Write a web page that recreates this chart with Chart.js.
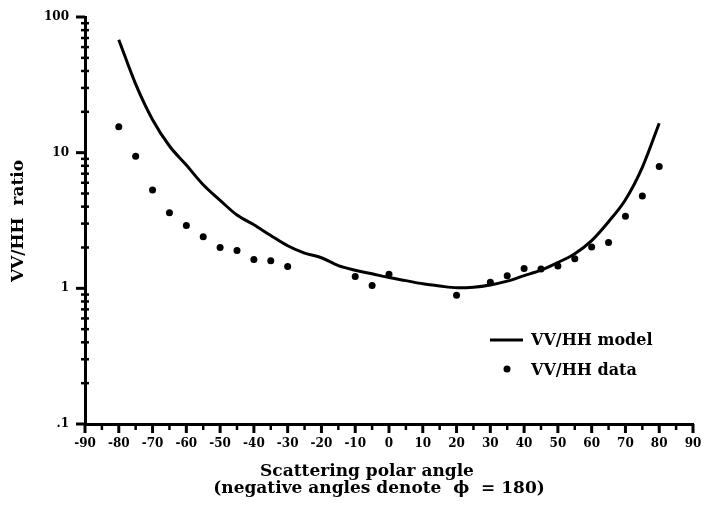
<!DOCTYPE html>
<html>
<head>
<meta charset="utf-8">
<script src="https://cdn.jsdelivr.net/npm/chart.js"></script>
<style>
    body { margin: 0; background: #fff; }
    #wrap { width: 701px; height: 505px; }
</style>
</head>
<body>
<div id="wrap"><canvas id="chart1" width="701" height="505"></canvas></div>
<script>
// model curve
var modelAngles = [-80, -75, -70, -65, -60, -55, -50, -45, -40, -35, -30, -25, -20, -15, -10, -5,
    0, 5, 10, 15, 20, 25, 30, 35, 40, 45, 50, 55, 60, 65, 70, 75, 80];
var modelRatio = [68, 32, 17.5, 11.2, 8.1, 5.8, 4.45, 3.47, 2.94, 2.45, 2.06, 1.82, 1.68, 1.47, 1.36, 1.28,
    1.2, 1.14, 1.08, 1.04, 1.01, 1.02, 1.06, 1.13, 1.24, 1.36, 1.55, 1.8, 2.25, 3.1, 4.5, 7.8, 16.5];

// measured points
var dataAngles = [-80, -75, -70, -65, -60, -55, -50, -45, -40, -35, -30, -10, -5, 0,
    20, 30, 35, 40, 45, 50, 55, 60, 65, 70, 75, 80];
var dataRatio = [15.5, 9.4, 5.3, 3.6, 2.9, 2.4, 2.0, 1.9, 1.63, 1.6, 1.45, 1.22, 1.05, 1.27,
    0.89, 1.11, 1.24, 1.4, 1.39, 1.46, 1.65, 2.02, 2.18, 3.4, 4.8, 7.9];

// axis ticks
var xTicks = [-90, -80, -70, -60, -50, -40, -30, -20, -10, 0, 10, 20, 30, 40, 50, 60, 70, 80, 90];
var yDecades = [0.1, 1, 10, 100];
var yLabels = [".1", "1", "10", "100"];

var serif = "'DejaVu Serif', serif";

function toPoints(xs, ys) {
    return xs.map(function (x, i) { return { x: x, y: ys[i] }; });
}

// tick marks, axis titles and legend
var decorations = {
    id: 'decorations',
    afterDraw: function (chart) {
        var ctx = chart.ctx;
        var xs = chart.scales.x, ys = chart.scales.y;
        var a = chart.chartArea;
        ctx.save();
        ctx.strokeStyle = '#000';
        ctx.fillStyle = '#000';

        // x ticks, major every 10 and minor every 5
        for (var v = xs.min; v <= xs.max; v += 5) {
            var px = xs.getPixelForValue(v);
            var major = v % 10 === 0;
            ctx.lineWidth = major ? 3 : 2.5;
            ctx.beginPath();
            ctx.moveTo(px, a.bottom);
            ctx.lineTo(px, a.bottom + (major ? 9 : 6));
            ctx.stroke();
        }

        // y ticks, decades outside, minor ones across the axis
        yDecades.forEach(function (d, i) {
            var py = ys.getPixelForValue(d);
            ctx.lineWidth = 3;
            ctx.beginPath();
            ctx.moveTo(a.left - 9, py);
            ctx.lineTo(a.left, py);
            ctx.stroke();
            if (i < yDecades.length - 1) {
                for (var m = 2; m <= 9; m++) {
                    var pm = ys.getPixelForValue(d * m);
                    ctx.lineWidth = 2.5;
                    ctx.beginPath();
                    ctx.moveTo(a.left - 4, pm);
                    ctx.lineTo(a.left + 4, pm);
                    ctx.stroke();
                }
            }
        });

        // axis titles
        ctx.textAlign = 'center';
        ctx.textBaseline = 'middle';
        ctx.font = 'bold 17px ' + serif;
        ctx.fillText('Scattering polar angle', 367, 472);
        ctx.fillText('(negative angles denote  \u03D5  = 180)', 379, 489);

        ctx.save();
        ctx.translate(19, 221);
        ctx.rotate(-Math.PI / 2);
        ctx.fillText('VV/HH  ratio', 0, 0);
        ctx.restore();

        // legend
        ctx.lineWidth = 3;
        ctx.beginPath();
        ctx.moveTo(490, 340);
        ctx.lineTo(523, 340);
        ctx.stroke();
        ctx.beginPath();
        ctx.arc(507, 369, 3.5, 0, Math.PI * 2);
        ctx.fill();
        ctx.textAlign = 'left';
        ctx.font = 'bold 16px ' + serif;
        ctx.fillText('VV/HH model', 531, 341);
        ctx.fillText('VV/HH data', 531, 371);

        ctx.restore();
    }
};

new Chart("chart1", {
    type: "scatter",
    data: {
        datasets: [{
            label: 'VV/HH model',
            data: toPoints(modelAngles, modelRatio),
            showLine: true,
            borderColor: '#000',
            borderWidth: 3,
            pointRadius: 0,
            cubicInterpolationMode: 'monotone'
        }, {
            label: 'VV/HH data',
            data: toPoints(dataAngles, dataRatio),
            backgroundColor: '#000',
            borderColor: '#000',
            pointRadius: 3.5,
            borderWidth: 0
        }]
    },
    options: {
        responsive: false,
        animation: false,
        layout: {
            padding: { left: 0, top: 17, right: 8, bottom: 0 }
        },
        plugins: {
            legend: { display: false },
            tooltip: { enabled: false }
        },
        scales: {
            x: {
                type: 'linear',
                min: -90,
                max: 90,
                afterBuildTicks: function (scale) {
                    scale.ticks = xTicks.map(function (v) { return { value: v }; });
                },
                afterFit: function (scale) {
                    scale.height = 81;
                    scale.paddingLeft = 0;
                    scale.paddingRight = 0;
                },
                grid: { display: false, drawTicks: false },
                border: { display: true, color: '#000', width: 3 },
                ticks: {
                    color: '#000',
                    padding: 13,
                    maxRotation: 0,
                    autoSkip: false,
                    font: { family: serif, size: 12, weight: 'bold' }
                }
            },
            y: {
                type: 'logarithmic',
                min: 0.1,
                max: 100,
                afterBuildTicks: function (scale) {
                    scale.ticks = yDecades.map(function (v) { return { value: v }; });
                },
                afterFit: function (scale) {
                    scale.width = 85;
                    scale.paddingTop = 0;
                    scale.paddingBottom = 0;
                },
                grid: { display: false, drawTicks: false },
                border: { display: true, color: '#000', width: 3 },
                ticks: {
                    color: '#000',
                    padding: 16,
                    autoSkip: false,
                    font: { family: serif, size: 12, weight: 'bold' },
                    callback: function (value) {
                        var i = yDecades.indexOf(value);
                        return i >= 0 ? yLabels[i] : '';
                    }
                }
            }
        }
    },
    plugins: [decorations]
});
</script>
</body>
</html>
